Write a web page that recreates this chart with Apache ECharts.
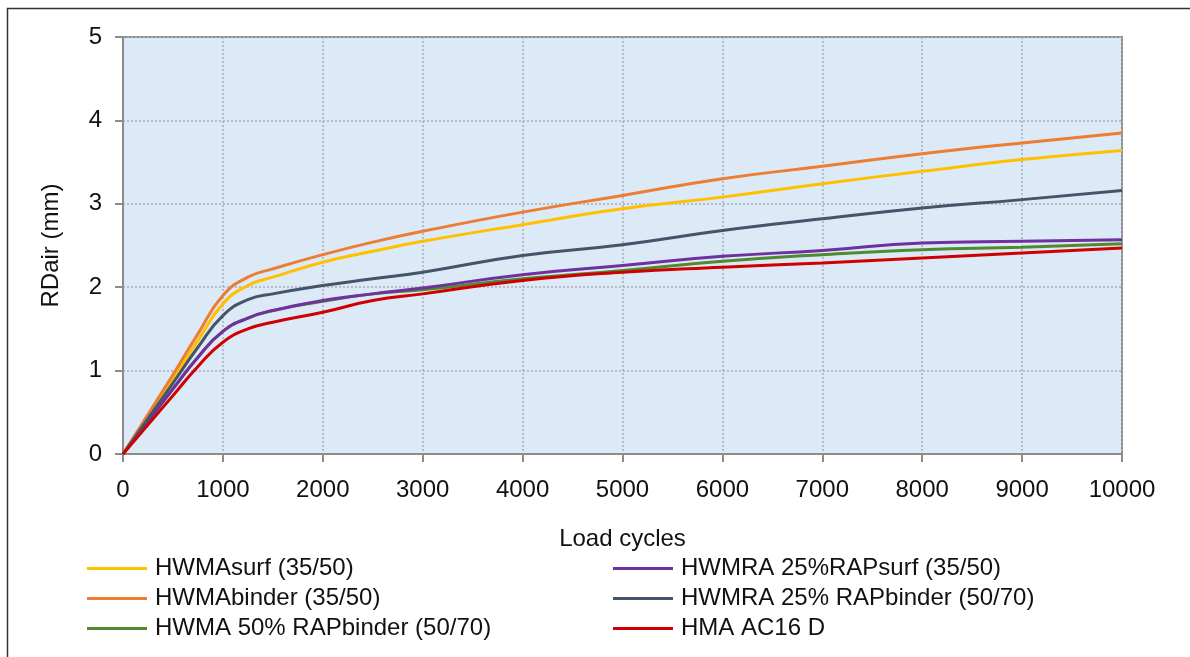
<!DOCTYPE html>
<html>
<head>
<meta charset="utf-8">
<script src="https://cdn.jsdelivr.net/npm/echarts@6/dist/echarts.min.js"></script>
<style>html,body{margin:0;padding:0;background:#fff;}#c{width:1190px;height:657px;}</style>
</head>
<body>
<div id="c"></div>
<script>
const loadCycles = [0, 500, 750, 1000, 1250, 1500, 2000, 2500, 3000, 4000, 5000, 6000, 7000, 8000, 9000, 10000];
const seriesNames = ["HWMAsurf (35/50)", "HWMAbinder (35/50)", "HWMA 50% RAPbinder (50/70)", "HWMRA 25%RAPsurf (35/50)", "HWMRA 25% RAPbinder (50/70)", "HMA AC16 D"];
const hwmaSurf    = [0, 0.90, 1.36, 1.80, 2.02, 2.12, 2.30, 2.43, 2.55, 2.75, 2.94, 3.08, 3.24, 3.39, 3.53, 3.64];
const hwmaBinder  = [0, 0.95, 1.44, 1.90, 2.12, 2.22, 2.39, 2.54, 2.67, 2.90, 3.10, 3.30, 3.45, 3.60, 3.73, 3.85];
const hwma50Rap   = [0, 0.78, 1.16, 1.47, 1.63, 1.72, 1.83, 1.92, 1.97, 2.10, 2.20, 2.31, 2.39, 2.45, 2.48, 2.52];
const hwmra25Surf = [0, 0.78, 1.16, 1.47, 1.63, 1.72, 1.84, 1.92, 1.99, 2.15, 2.26, 2.37, 2.44, 2.53, 2.55, 2.57];
const hwmra25Bind = [0, 0.85, 1.28, 1.66, 1.85, 1.92, 2.02, 2.10, 2.18, 2.38, 2.51, 2.68, 2.82, 2.95, 3.05, 3.16];
const hmaAc16     = [0, 0.70, 1.05, 1.34, 1.50, 1.58, 1.70, 1.84, 1.92, 2.08, 2.18, 2.24, 2.29, 2.35, 2.41, 2.47];
const xTicks = [0, 1000, 2000, 3000, 4000, 5000, 6000, 7000, 8000, 9000, 10000];
const yTicks = [0, 1, 2, 3, 4, 5];

const colors = ["#ffc000", "#ed7d31", "#4f8a2e", "#7030a0", "#44546a", "#d00000"];
const allValues = [hwmaSurf, hwmaBinder, hwma50Rap, hwmra25Surf, hwmra25Bind, hmaAc16];
const pair = v => loadCycles.map((x, i) => [x, v[i]]);

const font = "'Liberation Sans', Arial, sans-serif";
const chart = echarts.init(document.getElementById('c'));
const legendCommon = {
  orient: 'vertical', itemWidth: 60, itemHeight: 3, itemGap: 3, icon: 'rect', padding: 0,
  textStyle: { fontFamily: font, fontSize: 24, color: '#111', lineHeight: 27, padding: [0, 0, 0, 3] }
};
chart.setOption({
  animation: false,
  backgroundColor: '#fff',
  color: colors,
  graphic: [{ type: 'rect', shape: { x: 7.5, y: 8.5, width: 1200, height: 700 }, style: { fill: 'none', stroke: '#333', lineWidth: 1.5 }, silent: true }],
  grid: { left: 123, right: 68, top: 37, bottom: 203, show: true, backgroundColor: '#dce9f6', borderColor: '#8c8c8c', borderWidth: 2 },
  legend: [
    Object.assign({ left: 87, top: 555, data: [seriesNames[0], seriesNames[1], seriesNames[2]] }, legendCommon),
    Object.assign({ left: 613, top: 555, data: [seriesNames[3], seriesNames[4], seriesNames[5]] }, legendCommon)
  ],
  xAxis: {
    type: 'value', min: xTicks[0], max: xTicks[xTicks.length - 1], interval: 1000,
    name: 'Load cycles', nameLocation: 'middle', nameGap: 73,
    nameTextStyle: { fontFamily: font, fontSize: 24, color: '#111' },
    axisLine: { lineStyle: { color: '#8c8c8c', width: 2 } },
    axisTick: { show: true, length: 8, lineStyle: { color: '#8c8c8c', width: 2 } },
    axisLabel: { fontFamily: font, fontSize: 24, color: '#111', margin: 24, formatter: v => String(v) },
    splitLine: { show: true, lineStyle: { color: '#a6adb5', type: [2, 2], width: 1.5 } }
  },
  yAxis: {
    type: 'value', min: yTicks[0], max: yTicks[yTicks.length - 1], interval: 1,
    name: 'RDair (mm)', nameLocation: 'middle', nameGap: 60,
    nameTextStyle: { fontFamily: font, fontSize: 24, color: '#111' },
    axisLine: { show: true, lineStyle: { color: '#8c8c8c', width: 2 } },
    axisTick: { show: true, length: 8, lineStyle: { color: '#8c8c8c', width: 2 } },
    axisLabel: { fontFamily: font, fontSize: 24, color: '#111', margin: 21, formatter: v => String(v) },
    splitLine: { show: true, lineStyle: { color: '#a6adb5', type: [2, 2], width: 1.5 } }
  },
  series: seriesNames.map((n, i) => ({
    name: n, type: 'line', data: pair(allValues[i]), smooth: 0.5, showSymbol: false,
    lineStyle: { width: 3, color: colors[i] }
  }))
});
</script>
</body>
</html>
